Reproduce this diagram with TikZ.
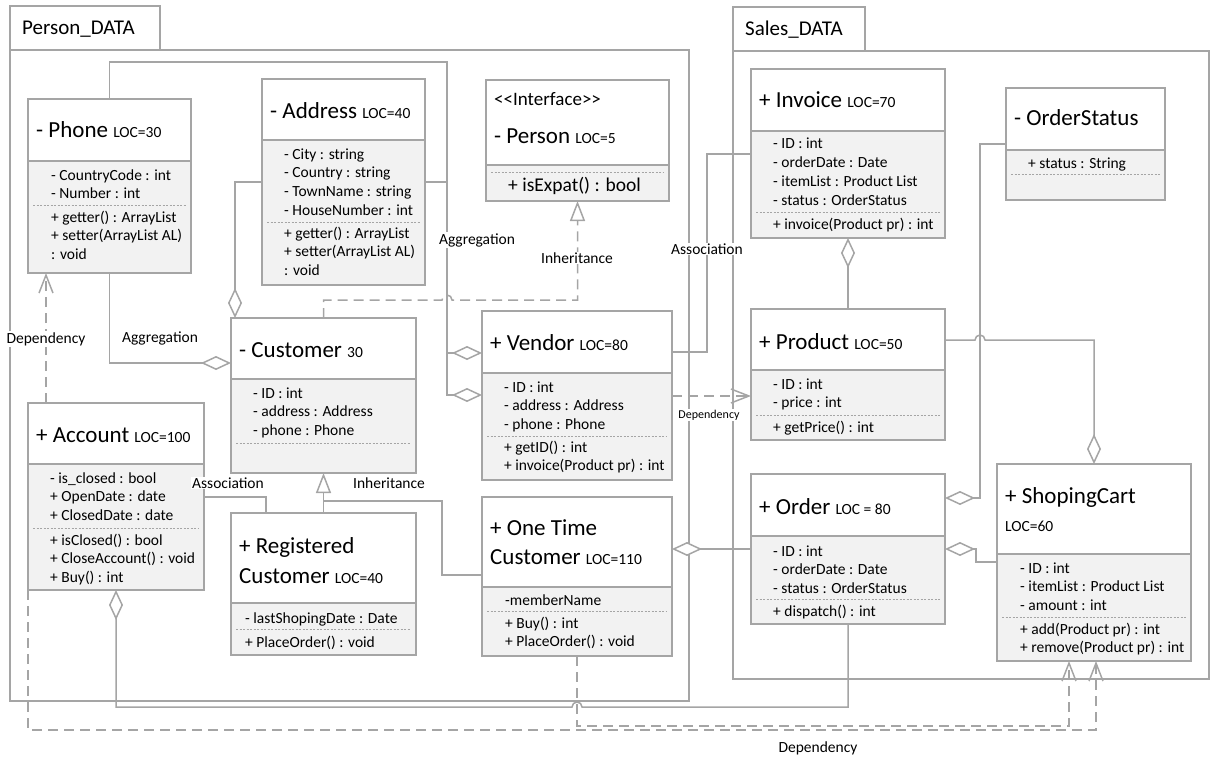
\documentclass[tikz,border=0pt]{standalone}
\usepackage{fontspec}
\setmainfont{Carlito}
\usetikzlibrary{arrows.meta,positioning}
\definecolor{lgray}{RGB}{165,165,165}
\definecolor{bfill}{RGB}{242,242,242}
\newcommand{\loc}{\fontsize{15.5}{18}\selectfont}
% class box: name, x, y, width, head height, body height
\newcommand{\umlclass}[6]{%
  \node[head, minimum width=#4, minimum height=#5] (#1) at (#2,#3) {};
  \node[body, minimum width=#4, minimum height=#6, below=0pt of #1] (#1-b) {};
}
% member lines: prefix, x, first baseline, list
\newcommand{\members}[4]{%
  \foreach \m [count=\i] in {#4}
    \node[mem] (#1-\i) at (#2,#3+18.8*\i-18.8) {\m};
}
\newcommand{\sepline}[2]{%
  \draw[sep] ([xshift=5pt]#1-b.west |- 0,#2) -- ([xshift=-5pt]#1-b.east |- 0,#2);
}
\tikzset{
  head/.style={draw=lgray, line width=1.5pt, fill=white, anchor=north west, outer sep=0pt, inner sep=0pt},
  body/.style={head, fill=bfill},
  ttl/.style={anchor=base west, font=\fontsize{23}{27}\selectfont, inner sep=0pt},
  mem/.style={anchor=base west, font=\fontsize{15.5}{18.8}\selectfont, inner sep=0pt},
  sep/.style={draw=lgray, line width=0.8pt, dash pattern=on 2pt off 1.5pt},
  frame/.style={draw=lgray, line width=1.5pt},
  conn/.style={draw=lgray, line width=1.5pt},
  dep/.style={conn, dash pattern=on 10pt off 6pt},
  agg/.style={-{Diamond[fill=white, length=30pt, width=14pt]}},
  inh/.style={-{Triangle[fill=white, length=20pt, width=15pt]}},
  uses/.style={-{Straight Barb[length=18pt, width=14pt]}},
  lbl/.style={font=\fontsize{15.5}{18}\selectfont, fill=white, inner sep=1pt},
}
\begin{document}
\begin{tikzpicture}[x=1pt, y=-1pt]
  \useasboundingbox (0,0) rectangle (1212,757);
  % packages
  \draw[frame] (10,50) rectangle (689,701); \draw[frame] (10,6) rectangle (160,50);
  \node[anchor=base west, font=\fontsize{21}{25}\selectfont, inner sep=0pt] (pdata) at (22,35) {Person\_DATA};
  \draw[frame] (733,51) rectangle (1209,679); \draw[frame] (733,7) rectangle (865,51);
  \node[anchor=base west, font=\fontsize{21}{25}\selectfont, inner sep=0pt] (sdata) at (745,36) {Sales\_DATA};

  % Person_DATA classes
  \umlclass{phone}{28}{99}{163}{62}{112}
  \node[ttl] (phone-t) at (36,137) {- Phone {\loc LOC=30}};
  \members{phone-a}{51}{180}{- CountryCode : int, - Number : int}
  \sepline{phone}{205}
  \members{phone-o}{51}{222}{+ getter() : ArrayList, + setter(ArrayList AL), : void}

  \umlclass{address}{262}{79}{163}{61}{145}
  \node[ttl] (address-t) at (270,118) {- Address {\loc LOC=40}};
  \members{address-a}{284}{159}{- City : string, - Country : string, - TownName : string, - HouseNumber : int}
  \sepline{address}{222}
  \members{address-o}{284}{238}{+ getter() : ArrayList, + setter(ArrayList AL), : void}

  \umlclass{person}{486}{80}{183}{85}{36}
  \node[ttl, font=\fontsize{19}{23}\selectfont] (person-s) at (494,106) {<\kern0pt<Interface>\kern0pt>};
  \node[ttl] (person-t) at (494,143) {- Person {\loc LOC=5}};
  \sepline{person}{172}
  \node[ttl, font=\fontsize{19.5}{23}\selectfont] (person-o) at (508,191.5) {+ isExpat() : bool};

  \umlclass{customer}{231}{318}{185}{61}{94}
  \node[ttl] (customer-t) at (239,357) {- Customer {\loc 30}};
  \members{customer-a}{253}{398}{- ID : int, - address : Address, - phone : Phone}
  \sepline{customer}{443}

  \umlclass{account}{28}{403}{176}{61}{126}
  \node[ttl] (account-t) at (36,442) {+ Account {\loc LOC=100}};
  \members{account-a}{50}{483}{- is\_closed : bool, + OpenDate : date, + ClosedDate : date}
  \sepline{account}{528}
  \members{account-o}{50}{545}{+ isClosed() : bool, + CloseAccount() : void, + Buy() : int}

  \umlclass{registered}{231}{513}{185}{90}{52}
  \node[ttl] (registered-t) at (239,553) {+ Registered};
  \node[ttl] (registered-u) at (239,583) {Customer {\loc LOC=40}};
  \members{registered-a}{245}{623}{- lastShopingDate : Date}
  \sepline{registered}{629}
  \members{registered-o}{245}{647}{+ PlaceOrder() : void}

  \umlclass{vendor}{482}{311}{190}{62}{107}
  \node[ttl] (vendor-t) at (490,350) {+ Vendor {\loc LOC=80}};
  \members{vendor-a}{504}{392}{- ID : int, - address : Address, - phone : Phone}
  \sepline{vendor}{436}
  \members{vendor-o}{504}{452}{+ getID() : int, + invoice(Product pr) : int}

  \umlclass{onetime}{482}{497}{190}{90}{69}
  \node[ttl] (onetime-t) at (490,535) {+ One Time};
  \node[ttl] (onetime-u) at (490,564) {Customer {\loc LOC=110}};
  \members{onetime-a}{505}{605}{-memberName}
  \sepline{onetime}{611}
  \members{onetime-o}{505}{628}{+ Buy() : int, + PlaceOrder() : void}

  % Sales_DATA classes
  \umlclass{invoice}{751}{69}{194}{62}{107}
  \node[ttl] (invoice-t) at (759,108) {+ Invoice {\loc LOC=70}};
  \members{invoice-a}{773}{149}{- ID : int, - orderDate : Date, - itemList : Product List, - status : OrderStatus}
  \sepline{invoice}{212}
  \members{invoice-o}{773}{229}{+ invoice(Product pr) : int}

  \umlclass{ostatus}{1006}{88}{159}{62}{50}
  \node[ttl] (ostatus-t) at (1014,126) {- OrderStatus};
  \members{ostatus-a}{1028}{168}{+ status : String}
  \sepline{ostatus}{174}

  \umlclass{product}{751}{309}{194}{61}{70}
  \node[ttl] (product-t) at (759,349) {+ Product {\loc LOC=50}};
  \members{product-a}{773}{389}{- ID : int, - price : int}
  \sepline{product}{415}
  \members{product-o}{773}{432}{+ getPrice() : int}

  \umlclass{order}{751}{474}{194}{62}{88}
  \node[ttl] (order-t) at (759,514) {+ Order {\loc LOC = 80}};
  \members{order-a}{773}{556}{- ID : int, - orderDate : Date, - status : OrderStatus}
  \sepline{order}{599}
  \members{order-o}{773}{616}{+ dispatch() : int}

  \umlclass{cart}{997}{464}{194}{90}{107}
  \node[ttl] (cart-t) at (1005,503) {+ ShopingCart};
  \node[mem] (cart-u) at (1005,531) {LOC=60};
  \members{cart-a}{1020}{573}{- ID : int, - itemList : Product List, - amount : int}
  \sepline{cart}{617}
  \members{cart-o}{1020}{634}{+ add(Product pr) : int, + remove(Product pr) : int}

  % relations
  \draw[conn, agg] (phone.north) |- (447,62) |- (vendor-b.west |- 0,395);
  \draw[conn, agg] (address-b.east |- 0,182) -| (447,353) -- (vendor.west |- 0,353);
  \draw[conn, agg] (phone-b.south) |- (customer.west |- 0,363);
  \draw[conn, agg] (address-b.west |- 0,182) -| (customer.north -| 235,0);
  \draw[dep, inh] (customer.north) |- (442,300) arc (180:360:5) -| (person-b.south);
  \draw[conn] (vendor.east |- 0,352) -| (707,154) -- (invoice-b.west |- 0,154);
  \draw[dep, uses] (vendor-b.east |- 0,396) -- (product-b.west |- 0,396);
  \draw[conn, agg] (product.north) -- (invoice-b.south);
  \draw[conn, agg] (ostatus.west |- 0,144) -| (980,498) -- (order.east |- 0,498);
  \draw[conn, agg] (product.east |- 0,340) -- (975,340) arc (180:360:5) -| (cart.north);
  \draw[conn, agg] (cart-b.west |- 0,562) -| (976,549) -- (order-b.east |- 0,549);
  \draw[conn, agg] (order-b.west |- 0,549) -- (onetime.east |- 0,549);
  \draw[conn, inh] (registered.north) -- (customer-b.south);
  \draw[conn] (onetime.west |- 0,575) -| (442,501) -- (customer-b.south |- 0,501);
  \draw[conn] (account-b.east |- 0,497) -| (registered.north -| 266,0);
  \draw[dep, uses] (account.north -| 46,0) -- (phone-b.south -| 46,0);
  \draw[conn, agg] (order-b.south) |- (582,707) arc (0:-180:5) -| (account-b.south -| 116,0);
  \draw[dep, uses] (onetime-b.south) |- (1069,726) -- (cart-b.south -| 1069,0);
  \draw[dep, uses] (account-b.south west) |- (1096,730) -- (cart-b.south -| 1096,0);

  % labels
  \node[lbl] (l-agg1) at (160,338) {Aggregation};
  \node[lbl] (l-agg2) at (477,240) {Aggregation};
  \node[lbl] (l-inh1) at (577,258) {Inheritance};
  \node[lbl] (l-inh2) at (389,483) {Inheritance};
  \node[lbl] (l-ass1) at (707,249) {Association};
  \node[lbl] (l-ass2) at (228,483) {Association};
  \node[lbl] (l-dep1) at (46,339) {Dependency};
  \node[lbl, font=\fontsize{12}{14}\selectfont] (l-dep2) at (709,415) {Dependency};
  \node[lbl] (l-dep3) at (818,748) {Dependency};
\end{tikzpicture}
\end{document}
